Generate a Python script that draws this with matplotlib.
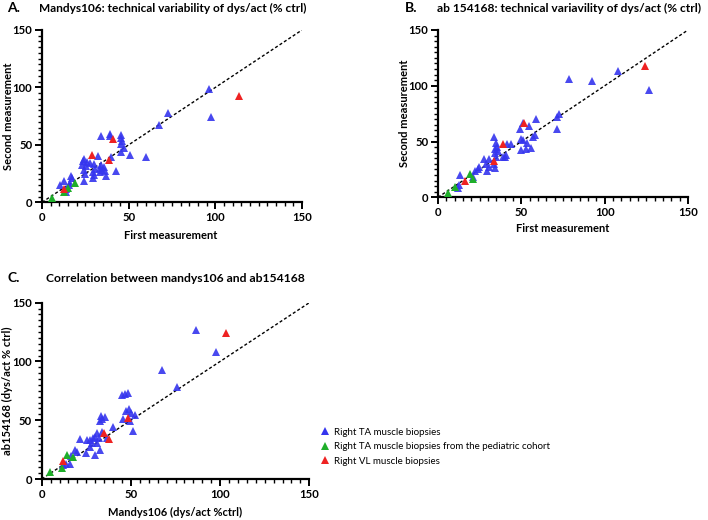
import matplotlib
matplotlib.use("Agg")
import matplotlib.pyplot as plt
from matplotlib.ticker import MultipleLocator
from matplotlib.lines import Line2D

plt.rcParams['font.family'] = ['Lato', 'DejaVu Sans']

# ---------------- data ----------------
# Panel A: Mandys106 first vs second measurement
a_blue_x = [96.2, 97.7, 72.7, 67.3, 60.2, 50.6, 45.6, 45.4, 45.9, 45.8, 47.1, 45.6, 34.0, 39.0, 39.4, 40.0,
            32.1, 42.7, 36.7, 24.2, 23.6, 25.9, 27.9, 29.8, 23.1, 25.4, 34.2, 33.6, 35.5, 30.8, 34.6, 36.5,
            24.0, 29.4, 25.0, 30.2, 29.4, 24.2, 33.2, 16.7, 17.1, 12.9, 10.6, 16.3, 15.6, 14.0, 13.6]
a_blue_y = [98.3, 74.6, 78.0, 67.3, 39.4, 41.2, 58.6, 55.7, 53.3, 50.5, 47.5, 44.0, 57.4, 59.7, 57.4, 39.4,
            40.3, 27.2, 22.9, 37.7, 35.9, 35.3, 34.2, 33.6, 32.5, 31.6, 32.5, 30.1, 31.0, 29.0, 28.1, 27.2,
            27.8, 26.1, 24.6, 23.8, 20.9, 18.5, 26.1, 22.6, 20.9, 18.5, 15.1, 16.5, 15.1, 11.3, 8.7]
a_green_x = [19.0, 14.8, 12.5, 5.8]
a_green_y = [16.5, 12.7, 9.2, 3.5]
a_red_x = [113.7, 41.0, 29.0, 38.6, 12.9]
a_red_y = [92.3, 55.1, 41.2, 37.1, 11.6]

# Panel B: ab154168 first vs second measurement
b_blue_x = [108.2, 92.6, 78.8, 126.6, 72.8, 71.4, 71.2, 58.8, 51.2, 49.4, 54.8, 57.2, 58.2, 50.0, 51.2,
            53.4, 55.8, 52.8, 49.8, 33.8, 34.8, 41.2, 43.8, 35.6, 34.2, 36.0, 34.0, 38.8, 40.8, 40.0, 34.8,
            27.8, 30.8, 33.6, 30.8, 28.8, 24.8, 23.8, 22.4, 29.2, 34.4, 13.2, 21.2, 12.4, 12.0]
b_blue_y = [113.2, 104.0, 106.1, 96.5, 74.7, 72.3, 61.3, 70.2, 67.0, 61.3, 64.2, 53.8, 55.9, 52.3, 51.4,
            49.0, 44.5, 43.6, 42.4, 54.4, 48.4, 47.5, 47.8, 45.4, 43.3, 41.8, 40.0, 36.4, 37.9, 35.9, 36.4,
            34.3, 34.1, 29.9, 26.9, 29.9, 27.4, 25.1, 23.6, 23.6, 26.0, 20.0, 18.5, 11.0, 8.6]
b_green_x = [19.4, 20.8, 10.0, 6.2]
b_green_y = [20.9, 16.1, 9.5, 4.1]
b_red_x = [124.2, 51.8, 38.8, 33.8, 16.2]
b_red_y = [117.4, 66.9, 47.5, 32.8, 14.9]

# Panel C: Mandys106 vs ab154168
c_blue_x = [86.3, 97.5, 67.6, 75.6, 44.8, 46.7, 48.6, 47.3, 49.1, 49.9, 52.3, 45.7, 49.5, 51.0, 33.1,
            33.8, 35.5, 32.7, 39.8, 36.4, 33.6, 31.2, 29.9, 31.9, 28.6, 27.1, 25.2, 21.5, 28.0, 30.8,
            27.1, 32.7, 24.8, 30.0, 18.7, 19.6, 16.3, 15.9, 11.8, 13.6]
c_blue_y = [126.8, 108.3, 92.5, 78.6, 71.5, 72.3, 72.9, 58.1, 59.3, 56.4, 54.5, 50.8, 49.6, 41.0, 53.6,
            51.3, 53.0, 49.6, 44.0, 34.6, 40.3, 38.9, 36.0, 34.6, 34.6, 33.2, 33.2, 33.8, 30.4, 30.9,
            27.5, 24.7, 22.4, 20.4, 25.0, 23.2, 19.6, 12.8, 11.9, 12.5]
c_green_x = [14.0, 17.7, 11.2, 4.7]
c_green_y = [20.4, 18.4, 9.6, 6.2]
c_red_x = [103.1, 48.2, 35.1, 37.9, 12.1]
c_red_y = [124.5, 51.6, 38.9, 33.8, 15.6]

group_labels = ["Right TA muscle biopsies",
                "Right TA muscle biopsies from the pediatric cohort",
                "Right VL muscle biopsies"]
tick_vals = [0, 50, 100, 150]

BLUE = '#3535ee'
GREEN = '#1fae2a'
RED = '#ee2222'

W, H = 708, 520
fig = plt.figure(figsize=(W / 100, H / 100), dpi=100)


def px_axes(x0, x1, y_top, y_bot):
    return fig.add_axes([x0 / W, 1 - y_bot / H, (x1 - x0) / W, (y_bot - y_top) / H])


def style(ax):
    ax.set_xlim(0, 150)
    ax.set_ylim(0, 150)
    for s in ['top', 'right']:
        ax.spines[s].set_visible(False)
    for s in ['left', 'bottom']:
        ax.spines[s].set_linewidth(1.6)
    ax.set_xticks(tick_vals)
    ax.set_yticks(tick_vals)
    ax.xaxis.set_minor_locator(MultipleLocator(5))
    ax.yaxis.set_minor_locator(MultipleLocator(5))
    ax.tick_params(which='major', length=5, width=1.4, labelsize=8.2, pad=2)
    ax.tick_params(which='minor', length=2.8, width=1.0)
    for lab in ax.get_xticklabels() + ax.get_yticklabels():
        lab.set_fontweight('bold')
    ax.plot([0, 150], [0, 150], color='black', linestyle=(0, (2.2, 1.6)), linewidth=1.0, zorder=1)


def draw(ax, bx, by, gx, gy, rx, ry):
    ms = 6.2
    ax.plot(bx, by, '^', color=BLUE, markersize=ms, markeredgewidth=0, alpha=0.9, zorder=3)
    ax.plot(gx, gy, '^', color=GREEN, markersize=ms, markeredgewidth=0, zorder=4)
    ax.plot(rx, ry, '^', color=RED, markersize=ms, markeredgewidth=0, zorder=4)
    style(ax)


axA = px_axes(42, 302, 30, 202.3)
draw(axA, a_blue_x, a_blue_y, a_green_x, a_green_y, a_red_x, a_red_y)
axB = px_axes(438, 688, 30, 197.3)
draw(axB, b_blue_x, b_blue_y, b_green_x, b_green_y, b_red_x, b_red_y)
axC = px_axes(41.7, 309.3, 302.7, 479)
draw(axC, c_blue_x, c_blue_y, c_green_x, c_green_y, c_red_x, c_red_y)


def ftext(x, y, s, **kw):
    return fig.text(x / W, 1 - y / H, s, **kw)


renderer = fig.canvas.get_renderer()


def fit_text(t, target_px):
    w = t.get_window_extent(renderer=renderer).width
    if w > 0:
        t.set_fontsize(t.get_fontsize() * target_px / w)


# titles
tkw = dict(fontweight='bold', va='center', ha='left', fontsize=10)
ftext(7, 8, "A.", **tkw)
fit_text(ftext(39, 8, "Mandys106: technical variability of dys/act (% ctrl)", **tkw), 268)
ftext(405, 8, "B.", **tkw)
fit_text(ftext(437, 8, "ab 154168: technical variavility of dys/act (% ctrl)", **tkw), 266)
ftext(7, 278, "C.", **tkw)
fit_text(ftext(46, 278, "Correlation between mandys106 and ab154168", **tkw), 258)

# axis labels
lkw = dict(fontsize=8, fontweight='bold', ha='center', va='center')
ftext(171, 236, "First measurement", **lkw)
ftext(9, 116, "Second measurement", rotation=90, **lkw)
ftext(563, 228, "First measurement", **lkw)
ftext(404, 113, "Second measurement", rotation=90, **lkw)
ftext(175, 512, "Mandys106 (dys/act %ctrl)", **lkw)
ftext(7, 391, "ab154168 (dys/act % ctrl)", rotation=90, **lkw)

# legend
handles = [Line2D([], [], marker='^', linestyle='none', color=c, markersize=6.2, markeredgewidth=0)
           for c in (BLUE, GREEN, RED)]
fig.legend(handles, group_labels, loc='center left', bbox_to_anchor=(320 / W, 1 - 446.7 / H),
           frameon=False, fontsize=7, handlelength=1.0, handletextpad=0.4, labelspacing=0.55,
           borderpad=0, borderaxespad=0)

fig.savefig("out.png", dpi=100)
